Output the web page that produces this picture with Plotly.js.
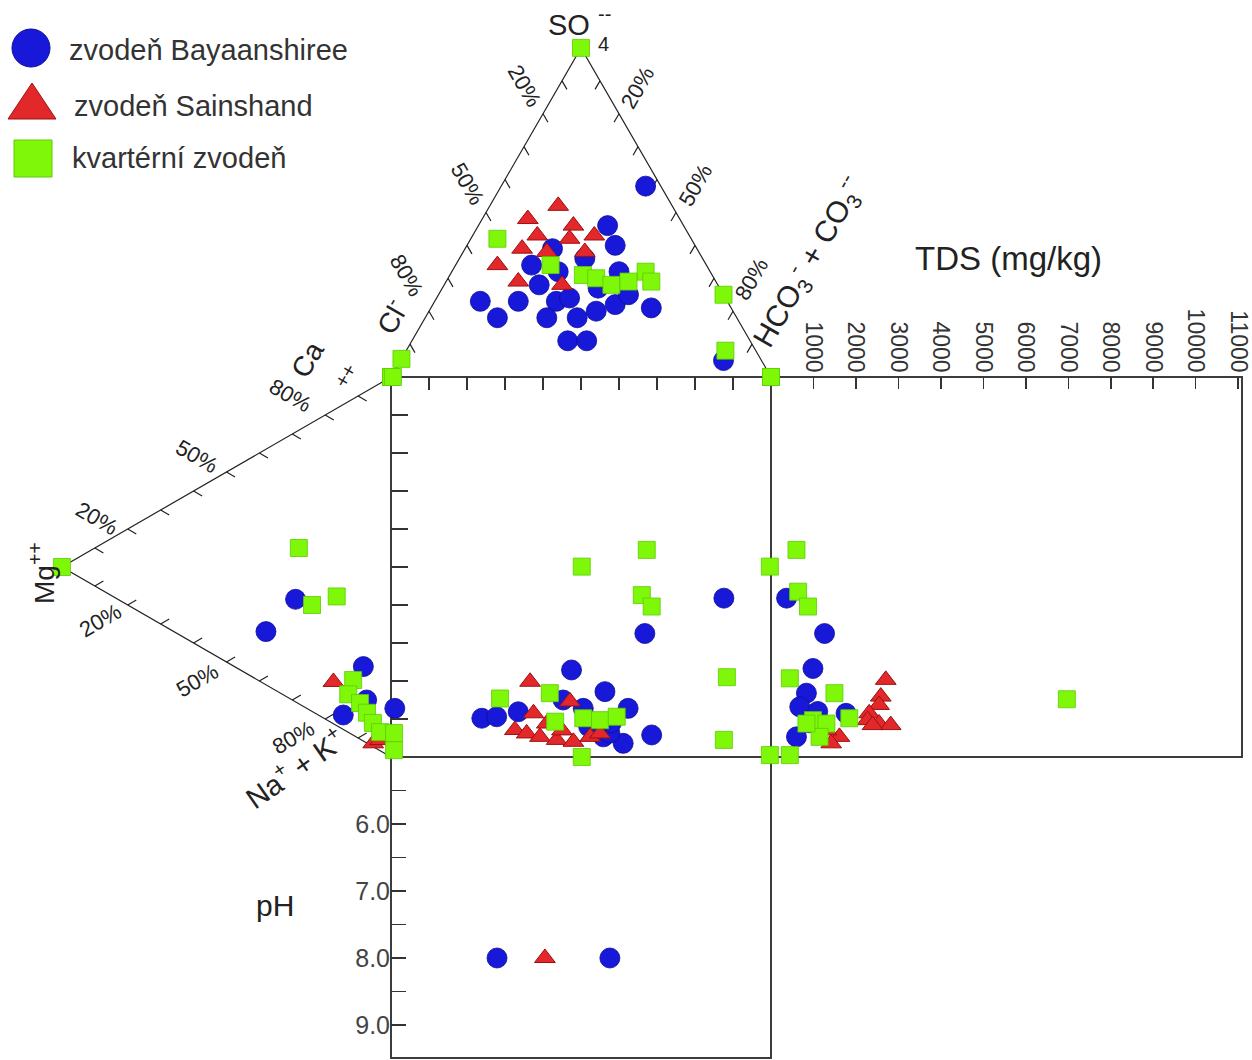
<!DOCTYPE html>
<html><head><meta charset="utf-8">
<script src="https://cdn.plot.ly/plotly-3.0.1.min.js"></script>
<style>html,body{margin:0;padding:0;background:#fff}</style>
</head><body><div id="chart" style="width:1252px;height:1060px"></div>
<script>
// ---------------- DATA ----------------
// Anion triangle: % SO4, % HCO3+CO3 (Cl = remainder)
const anionBlueSO4  = [58,46,40,34,39,23,18,23,21,11,11,18,20,22,28,23,27,32,32,36,25,5,24,18];
const anionBlueHCO3 = [38,34,39,20,23,12,19,22,58,41,46,40,44,48,25,32,41,44,28,33,50,85,35,32];
const anionRedSO4   = [52,48,46,43,42,43,34,29,28,38,38,39];
const anionRedHCO3  = [18,12,25,17,26,32,11,19,31,32,22,15];
const anionGreenSO4  = [100,42,34,31,30,28,32,29,25,8,0,0,5.5,29];
const anionGreenHCO3 = [0,7,25,35,39,44,51,54,75,84,0,100,0,48];

// Cation triangle: % Mg, % Ca (Na+K = remainder)
const cationBlueMg  = [29,38,8.4,14.5,7.4];
const cationBlueCa  = [27,14,19.6,3.8,11.3];
const cationRedMg   = [17.5,5.4,3.3];
const cationRedCa   = [11,0.9,2.8];
const cationGreenMg = [100,28,24,16.5,11.5,13,9.4,7.3,5.5,3.3,0];
const cationGreenCa = [0,41,28,34,14.5,10,9.5,8,6.2,4.9,100];

// Central square (anion index %, cation index %)
const sqBlueX  = [66.8,47.5,56.3,62.4,68.6,1,23.9,27.8,33.5,45.3,50.6,55.9,61.1,57.6,87.6,52,58];
const sqBlueY  = [32.5,22.9,17.2,12.8,5.8,12.8,10.2,10.6,11.9,15,12.8,5.3,3.6,6.3,41.8,8,9];
const sqRedX   = [36.6,32.6,37.5,47.1,35.7,39.2,43.6,48,52.4,55,41,45];
const sqRedY   = [19.8,7.1,11.5,14.6,6.2,5.3,4.5,4,5.3,6.2,8.8,7];
const sqGreenX = [50.2,67.3,66,68.6,28.7,41.8,43.2,50.6,55,59.4,50.2,0.8,0.8,88.4,87.6,99.7,99.7,0.5,100];
const sqGreenY = [50.1,54.5,42.6,39.6,15.4,16.8,9.3,10.2,9.7,10.6,0,6.3,1.8,21,4.5,50.1,0.5,100,100];

// TDS panel (mg/kg, cation index %)
const tdsBlue   = [367,1261,988,834,677,600,1767,900,1100];
const tdsBlueY  = [41.8,32.5,23.3,16.8,13.2,5.3,11.5,9,12];
const tdsRed    = [2702,2585,2545,2312,2273,2545,2818,2390,1611,1417,1300];
const tdsRedY   = [20.3,15.9,13.7,11.5,9.7,8.8,8.4,8.4,5.3,3.6,7];
const tdsGreen  = [600,638,871,444,1494,988,1305,1844,1144,834,444,6966];
const tdsGreenY = [54.5,43.5,39.6,20.7,16.8,9.7,8.8,10.2,5.3,8.8,0.5,15.2];

// pH panel (anion index %, pH)
const phBlueX = [27.9,57.6];
const phBlue  = [8.0,8.0];
const phRedX  = [40.5];
const phRed   = [8.0];

// tick labels
const tdsTicks = [1000,2000,3000,4000,5000,6000,7000,8000,9000,10000,11000];
const phTicks = [6,7,8,9];
const phTickText = ['6.0','7.0','8.0','9.0'];
const pctTicks = [10,20,30,40,50,60,70,80,90];

const seriesNames = ['zvodeň Bayaanshiree','zvodeň Sainshand','kvartérní zvodeň'];

// ---------------- LAYOUT GEOMETRY ----------------
const W = 1252, H = 1060, S = 3.8, OX = 391, OY = 757;
const R3 = Math.sqrt(3)/2;
const ax = px => px / W, ay = py => 1 - py / H;
const FONT = 'Liberation Sans, Arial, sans-serif';

function anionXY(so4, hco3){ return [so4.map((s,i)=>hco3[i]+s/2), so4.map(s=>100+R3*s)]; }
function cationXY(mg, ca){ return [mg.map(m=>-R3*m), mg.map((m,i)=>ca[i]+m/2)]; }

const mBlue  = {symbol:'circle', size:20, color:'#1818d8', line:{color:'#0c0c9a', width:0.8}};
const mRed   = {symbol:'triangle-up', size:18, color:'#e3282b', line:{color:'#9c1010', width:1}};
const mGreen = {symbol:'square', size:17, color:'#7ef808', line:{color:'#5ccc00', width:0.8}};

function tr(x, y, m, xa, ya){
  return {type:'scatter', mode:'markers', x:x, y:y, marker:m, xaxis:xa, yaxis:ya,
          cliponaxis:false, hoverinfo:'skip', showlegend:false};
}
const aB = anionXY(anionBlueSO4, anionBlueHCO3), aR = anionXY(anionRedSO4, anionRedHCO3), aG = anionXY(anionGreenSO4, anionGreenHCO3);
const cB = cationXY(cationBlueMg, cationBlueCa), cR = cationXY(cationRedMg, cationRedCa), cG = cationXY(cationGreenMg, cationGreenCa);

const traces = [
  tr(aB[0], aB[1], mBlue, 'x', 'y'), tr(cB[0], cB[1], mBlue, 'x', 'y'),
  tr(aR[0], aR[1], mRed, 'x', 'y'),  tr(cR[0], cR[1], mRed, 'x', 'y'),
  tr(aG[0], aG[1], mGreen, 'x', 'y'), tr(cG[0], cG[1], mGreen, 'x', 'y'),
  tr(sqBlueX, sqBlueY, mBlue, 'x3', 'y3'),
  tr(sqRedX, sqRedY, mRed, 'x3', 'y3'),
  tr(sqGreenX, sqGreenY, mGreen, 'x3', 'y3'),
  tr(tdsBlue, tdsBlueY, mBlue, 'x2', 'y3'),
  tr(tdsRed, tdsRedY, mRed, 'x2', 'y3'),
  tr(tdsGreen, tdsGreenY, mGreen, 'x2', 'y3'),
  tr(phBlueX, phBlue, mBlue, 'x3', 'y2'),
  tr(phRedX, phRed, mRed, 'x3', 'y2')
];

// triangle ticks (parallel to the other slanted edge, pointing inward)
const TL = 2.6;
let tickPath = '';
pctTicks.forEach(p => {
  const t = p/100;
  let P;
  P = [50*t, 100+86.6*t];        tickPath += `M${P[0]},${P[1]} L${P[0]+TL*0.5},${P[1]-TL*R3} `;
  P = [100-50*t, 100+86.6*t];    tickPath += `M${P[0]},${P[1]} L${P[0]-TL*0.5},${P[1]-TL*R3} `;
  P = [-86.6*t, 100-50*t];       tickPath += `M${P[0]},${P[1]} L${P[0]+TL*R3},${P[1]-TL*0.5} `;
  P = [-86.6*t, 50*t];           tickPath += `M${P[0]},${P[1]} L${P[0]+TL*R3},${P[1]+TL*0.5} `;
});

const boxLine = {color:'#3c3c3c', width:2};
const shapes = [
  {type:'rect', xref:'x3 domain', yref:'y3 domain', x0:0, x1:1, y0:0, y1:1, line:boxLine, layer:'below'},
  {type:'rect', xref:'x2 domain', yref:'y3 domain', x0:0, x1:1, y0:0, y1:1, line:boxLine, layer:'below'},
  {type:'rect', xref:'x3 domain', yref:'y2 domain', x0:0, x1:1, y0:0, y1:1, line:boxLine, layer:'below'},
  {type:'path', xref:'x', yref:'y', path:`M0,100 L50,${100+86.6} L100,100`, line:{color:'#222', width:1.2}, layer:'below'},
  {type:'path', xref:'x', yref:'y', path:`M0,100 L-86.6,50 L0,0`, line:{color:'#222', width:1.2}, layer:'below'},
  {type:'path', xref:'x', yref:'y', path:tickPath, line:{color:'#222', width:1.2}, layer:'below'},
  // legend symbols
  {type:'circle', xref:'paper', yref:'paper', x0:ax(12), x1:ax(50), y0:ay(67), y1:ay(29), fillcolor:'#1818d8', line:{color:'#0c0c9a', width:1}},
  {type:'path', xref:'paper', yref:'paper', path:`M${ax(8)},${ay(119)} L${ax(56)},${ay(119)} L${ax(32)},${ay(83)} Z`, fillcolor:'#e3282b', line:{color:'#9c1010', width:1}},
  {type:'rect', xref:'paper', yref:'paper', x0:ax(14), x1:ax(52), y0:ay(177), y1:ay(140), fillcolor:'#7ef808', line:{color:'#5ccc00', width:1}}
];

function ann(text, px, py, size, angle, extra){
  return Object.assign({text:text, xref:'paper', yref:'paper', x:ax(px), y:ay(py), showarrow:false,
    xanchor:'center', yanchor:'middle', textangle:angle||0, font:{family:FONT, size:size, color:'#222'}}, extra||{});
}
const legFont = {family:FONT, size:29, color:'#333'};
const annotations = [
  ann(seriesNames[0], 67, 50, 29, 0, {xanchor:'left', font:legFont}),
  ann(seriesNames[1], 72, 106, 29, 0, {xanchor:'left', font:legFont}),
  ann(seriesNames[2], 70, 158, 29, 0, {xanchor:'left', font:legFont}),
  ann('SO', 569, 25, 29),
  ann('4', 603, 44, 20),
  ann('--', 604, 14, 20),
  ann('Cl<sup>-</sup>', 391, 316, 28, -60),
  ann('HCO<sub>3</sub><sup>-</sup> + CO<sub>3</sub><sup>--</sup>', 808, 262, 30, -60),
  ann('Ca', 308, 360, 28, -60),
  ann('++', 345, 376, 20, -60),
  ann('Mg<sup>++</sup>', 42, 573, 28, -90),
  ann('Na<sup>+</sup> + K<sup>+</sup>', 294, 768, 29, -35),
  ann('TDS (mg/kg)', 1008, 258, 33),
  ann('pH', 275, 905, 30),
  // triangle percentage labels
  ann('20%', 524, 86, 22, 60), ann('50%', 467, 184, 22, 60), ann('80%', 407, 275, 22, 60),
  ann('20%', 638, 88, 22, -60), ann('50%', 695, 185, 22, -60), ann('80%', 751, 279, 22, -60),
  ann('20%', 97, 518, 22, 30), ann('50%', 197, 456, 22, 30), ann('80%', 290, 396, 22, 30),
  ann('20%', 100, 620, 22, -30), ann('50%', 197, 680, 22, -30), ann('80%', 293, 737, 22, -30)
];

const hidden = {visible:false, fixedrange:true};
const layout = {
  width:W, height:H, margin:{l:0,r:0,t:0,b:0}, autosize:false,
  paper_bgcolor:'#fff', plot_bgcolor:'rgba(0,0,0,0)',
  font:{family:FONT, color:'#333'},
  showlegend:false,
  xaxis: Object.assign({domain:[0,1], range:[-OX/S, (W-OX)/S]}, hidden),
  yaxis: Object.assign({domain:[0,1], range:[(OY-H)/S, OY/S]}, hidden),
  xaxis3:{domain:[OX/W, (OX+100*S)/W], range:[0,100], anchor:'y3', side:'top',
    ticks:'inside', ticklen:13, tickwidth:1.5, tickcolor:'#333', tickvals:pctTicks,
    showticklabels:false, showgrid:false, zeroline:false, showline:false, fixedrange:true},
  yaxis3:{domain:[(H-OY)/H, (H-OY+100*S)/H], range:[0,100], anchor:'x3', side:'left',
    ticks:'inside', ticklen:17, tickwidth:1.5, tickcolor:'#333', tickvals:pctTicks,
    showticklabels:false, showgrid:false, zeroline:false, showline:false, fixedrange:true},
  xaxis2:{domain:[(OX+100*S)/W, 1242/W], range:[0,11090], anchor:'y3', side:'top',
    ticks:'inside', ticklen:12, tickwidth:1.5, tickcolor:'#333', tickvals:tdsTicks,
    ticktext:tdsTicks.map(String), tickangle:90, ticklabeloverflow:'allow',
    tickfont:{family:FONT, size:23, color:'#333'},
    showgrid:false, zeroline:false, showline:false, fixedrange:true},
  yaxis2:{domain:[(H-1058)/H, (H-OY)/H], range:[5+(1058-OY)/67, 5], anchor:'x3', side:'left',
    ticks:'inside', ticklen:15, tickwidth:1.5, tickcolor:'#333', tickvals:phTicks, ticktext:phTickText,
    minor:{tick0:5.5, dtick:1, ticks:'inside', ticklen:15, tickwidth:1.5, tickcolor:'#333', showgrid:false},
    tickfont:{family:FONT, size:25, color:'#444'},
    showgrid:false, zeroline:false, showline:false, fixedrange:true},
  shapes:shapes,
  annotations:annotations
};
Plotly.newPlot('chart', traces, layout, {displayModeBar:false, staticPlot:true});
</script>
</body></html>
